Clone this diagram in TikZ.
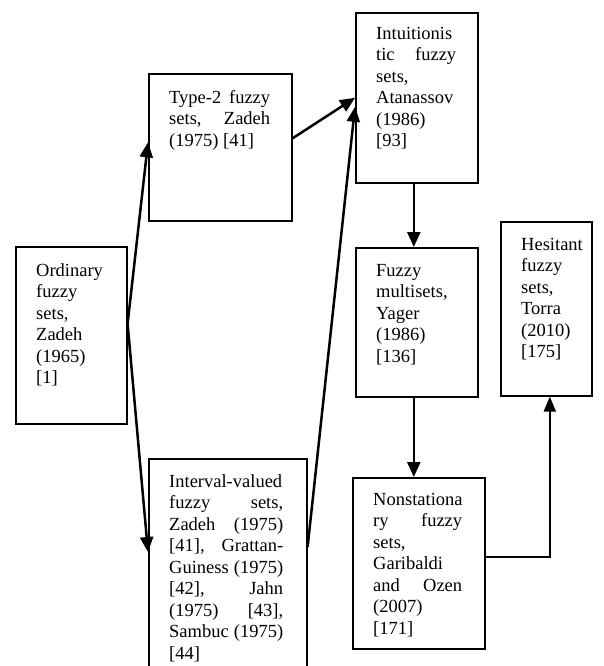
\documentclass[tikz,border=0pt]{standalone}
\usepackage{fontspec}
\setmainfont{Liberation Serif}
\usetikzlibrary{arrows.meta}
\tikzset{
  box/.style={draw, line width=1.6pt, rectangle, inner sep=0pt, anchor=north west, fill=white},
  txt/.style={anchor=north west, inner sep=0pt, align=left, font=\fontsize{18.5}{21.5}\selectfont},
  conn/.style={line width=2.5pt, -{Triangle[length=15pt,width=13pt]}},
}
\newcommand\jl[3]{\makebox[#1][s]{#2 #3}}
\begin{document}
\begin{tikzpicture}[x=1pt,y=-1pt]
\useasboundingbox (0,0) rectangle (603,666);
\clip (0,0) rectangle (603,666);
% boxes
\node[box, minimum width=111pt, minimum height=177pt] (ord) at (15,246) {};
\node[box, minimum width=143pt, minimum height=147pt] (t2) at (148,73) {};
\node[box, minimum width=158pt, minimum height=230pt] (iv) at (148,458) {};
\node[box, minimum width=122pt, minimum height=170pt] (intu) at (355,12) {};
\node[box, minimum width=122pt, minimum height=149pt] (fm) at (355,247) {};
\node[box, minimum width=91pt, minimum height=174pt] (hes) at (500,221) {};
\node[box, minimum width=132pt, minimum height=171pt] (ns) at (352,477) {};
% texts
\node[txt] (ordT) at (36,263) {Ordinary\\fuzzy\\sets,\\Zadeh\\(1965)\\{[1]}};
\node[txt] (t2T) at (169,90) {\jl{101pt}{Type-2}{fuzzy}\\\jl{101pt}{sets,}{Zadeh}\\(1975) [41]};
\node[txt] (ivT) at (169,474) {Interval-valued\\\jl{114pt}{fuzzy}{sets,}\\\jl{114pt}{Zadeh}{(1975)}\\\jl{114pt}{[41],}{Grattan-}\\\jl{114pt}{Guiness}{(1975)}\\\jl{114pt}{[42],}{Jahn}\\\jl{114pt}{(1975)}{[43],}\\\jl{114pt}{Sambuc}{(1975)}\\{[44]}};
\node[txt] (intuT) at (376,27) {Intuitionis\\\jl{80pt}{tic}{fuzzy}\\sets,\\Atanassov\\(1986)\\{[93]}};
\node[txt] (fmT) at (376,264) {Fuzzy\\multisets,\\Yager\\(1986)\\{[136]}};
\node[txt] (hesT) at (521,238) {Hesitant\\fuzzy\\sets,\\Torra\\(2010)\\{[175]}};
\node[txt] (nsT) at (373,493) {Nonstationa\\\jl{89pt}{ry}{fuzzy}\\sets,\\Garibaldi\\\jl{89pt}{and}{Ozen}\\(2007)\\{[171]}};
% connectors
\draw[conn] ([yshift=11.5pt]ord.east) -- ([yshift=5pt]t2.west);
\draw[conn] ([yshift=11.5pt]ord.east) -- ([yshift=-94pt]iv.north west);
\draw[conn] ([yshift=9pt]t2.east) -- (intu.west);
\draw[conn] ([yshift=-89pt]iv.north east) -- ([yshift=-9pt]intu.west);
\draw[conn] ([xshift=-3pt]intu.south) -- ([xshift=-3pt]fm.north);
\draw[conn] ([xshift=-3pt]fm.south) -- ([xshift=-5pt]ns.north);
\draw[line width=1.8pt, -{Triangle[length=15pt,width=12pt]}] ([yshift=6.5pt]ns.east) -| ([xshift=3.5pt]hes.south);
\end{tikzpicture}
\end{document}
